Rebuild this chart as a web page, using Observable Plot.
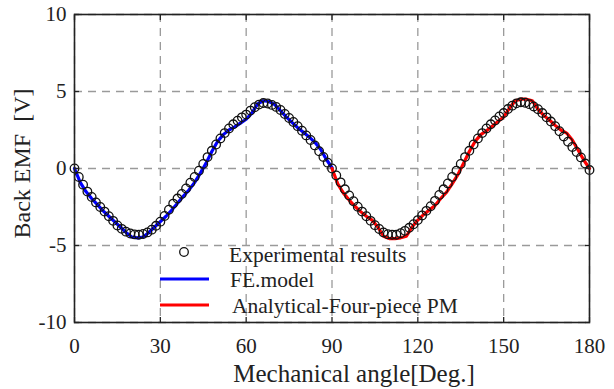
<!DOCTYPE html>
<html><head><meta charset="utf-8">
<script src="https://cdn.jsdelivr.net/npm/d3@7"></script>
<script src="https://cdn.jsdelivr.net/npm/@observablehq/plot@0.6"></script>
<style>
body{margin:0;background:#fff;}
#wrap{position:relative;width:614px;height:389px;font-family:"Liberation Serif","Times New Roman",serif;}
#leg{position:absolute;left:0;top:0;}
</style></head><body><div id="wrap"></div>
<script>
// Experimental results (circles)
const expAngle = [0,1.5,3,4.5,6,7.5,9,10.5,12,13.5,15,16.5,18,19.5,21,22.5,24,25.5,27,28.5,30,31.5,33,34.5,36,37.5,39,40.5,42,43.5,45,46.5,48,49.5,51,52.5,54,55.5,57,58.5,60,61.5,63,64.5,66,67.5,69,70.5,72,73.5,75,76.5,78,79.5,81,82.5,84,85.5,87,88.5,90,
  91.5,93,94.5,96,97.5,99,100.5,102,103.5,105,106.5,108,109.5,111,112.5,114,115.5,117,118.5,120,121.5,123,124.5,126,127.5,129,130.5,132,133.5,135,136.5,138,139.5,141,142.5,144,145.5,147,148.5,150,151.5,153,154.5,156,157.5,159,160.5,162,163.5,165,166.5,168,169.5,171,172.5,174,175.5,177,178.5,180];
const expEmf = [0,-0.55,-1.05,-1.5,-1.85,-2.2,-2.5,-2.8,-3.1,-3.4,-3.7,-3.92,-4.1,-4.22,-4.28,-4.3,-4.25,-4.15,-3.97,-3.72,-3.45,-3.08,-2.68,-2.28,-1.95,-1.65,-1.3,-0.92,-0.55,-0.14,0.3,0.74,1.15,1.56,1.95,2.3,2.6,2.87,3.1,3.32,3.5,3.76,3.98,4.15,4.25,4.22,4.13,4.0,3.8,3.54,3.28,3.02,2.75,2.45,2.15,1.85,1.5,1.12,0.75,0.38,0.0,
  -0.45,-0.9,-1.35,-1.75,-2.12,-2.48,-2.8,-3.1,-3.4,-3.68,-3.93,-4.15,-4.27,-4.3,-4.3,-4.2,-4.05,-3.85,-3.62,-3.35,-3.05,-2.75,-2.45,-2.1,-1.72,-1.35,-0.97,-0.55,-0.14,0.3,0.74,1.15,1.56,1.95,2.3,2.6,2.87,3.12,3.38,3.6,3.86,4.08,4.23,4.3,4.27,4.18,4.03,3.85,3.6,3.32,3.05,2.75,2.42,2.08,1.74,1.4,1.07,0.72,0.32,-0.1];
// FE model (blue)
const feAngle = [0,2,4,6,8,10,12,14,16,18,20,22,24,26,28,30,32,34,36,38,40,42,44,46,48,50,52,54,56,58,60,62,64,66,68,70,72,74,76,78,80,82,84,86,88,90];
const feEmf = [0,-0.9,-1.5,-1.95,-2.35,-2.75,-3.1,-3.45,-3.8,-4.15,-4.45,-4.5,-4.45,-4.15,-3.8,-3.45,-3.1,-2.7,-2.25,-1.8,-1.4,-0.9,-0.3,0.35,1.1,1.75,2.2,2.5,2.7,2.95,3.2,3.6,4.2,4.4,4.35,4.15,3.75,3.35,3.0,2.65,2.35,2.05,1.7,1.25,0.6,0.05];
// Analytical four-piece PM (red)
const anAngle = [90,92,94,96,98,100,102,104,106,108,110,112,114,116,118,120,122,124,126,128,130,132,134,136,138,140,142,144,146,148,150,152,154,156,158,160,162,164,166,168,170,172,174,176,178,180];
const anEmf = [0,-1.0,-1.6,-2.05,-2.45,-2.8,-3.1,-3.35,-3.8,-4.4,-4.55,-4.55,-4.5,-4.4,-3.8,-3.35,-3.0,-2.7,-2.4,-1.95,-1.55,-1.0,-0.4,0.35,1.1,1.75,2.2,2.45,2.75,3.05,3.35,3.9,4.4,4.5,4.5,4.4,3.85,3.45,3.15,2.8,2.5,2.3,1.85,1.2,0.55,0.0];

const xTicks = [0,30,60,90,120,150,180];
const yTicks = [-10,-5,0,5,10];
const xLabel = "Mechanical angle[Deg.]";
const yLabel = "Back EMF\u00a0\u00a0[V]";
const legendLabels = ["Experimental results","FE.model","Analytical-Four-piece PM"];

const exp = expAngle.map((a,i)=>({a, v:expEmf[i]}));
const fe = feAngle.map((a,i)=>({a, v:feEmf[i]}));
const an = anAngle.map((a,i)=>({a, v:anEmf[i]}));

const font = '"Liberation Serif","Times New Roman",serif';
const grid = {stroke:"#9a9a9a", strokeOpacity:1, strokeDasharray:"8,6", strokeWidth:1.3};
const inTick = {tickFormat:()=>"", label:null, stroke:"#222", strokeWidth:1.3, tickSize:-5};

const plot = Plot.plot({
  width:614, height:389,
  marginLeft:74, marginRight:25, marginTop:14, marginBottom:67,
  style:{fontFamily:font, fontSize:"21px", color:"#222", background:"#fff"},
  x:{domain:[0,180]},
  y:{domain:[-10,10]},
  marks:[
    Plot.gridX(xTicks, grid),
    Plot.gridY(yTicks, grid),
    Plot.line(fe, {x:"a", y:"v", stroke:"#0000ff", strokeWidth:3.2}),
    Plot.line(an, {x:"a", y:"v", stroke:"#ff0000", strokeWidth:3.2}),
    Plot.dot(exp, {x:"a", y:"v", r:4.3, stroke:"#111", strokeWidth:1.3, fill:"none"}),
    Plot.axisX(xTicks, {anchor:"bottom", tickSize:0, tickPadding:16, tickFormat:d=>String(d), label:null, fontSize:21, fill:"#222"}),
    Plot.axisY(yTicks, {anchor:"left", tickSize:0, tickPadding:8, tickFormat:d=>String(d), label:null, fontSize:21, fill:"#222"}),
    Plot.axisX(xTicks, {anchor:"bottom", ...inTick}),
    Plot.axisX(xTicks, {anchor:"top", ...inTick}),
    Plot.axisY(yTicks, {anchor:"left", ...inTick}),
    Plot.axisY(yTicks, {anchor:"right", ...inTick}),
    Plot.frame({stroke:"#222", strokeWidth:1.6}),
    Plot.text([xLabel], {frameAnchor:"bottom", lineAnchor:"bottom", textAnchor:"middle", dy:59, dx:22, fontSize:25, fill:"#222"}),
    Plot.text([yLabel], {frameAnchor:"left", textAnchor:"middle", lineAnchor:"middle", rotate:-90, dx:-52, dy:-5, fontSize:24, fill:"#222"})
  ]
});
const wrap = document.getElementById("wrap");
wrap.appendChild(plot);

// legend overlay
const leg = d3.select(wrap).append("svg").attr("id","leg").attr("width",614).attr("height",389)
  .style("font-family", font).style("font-size","21.5px");
const rows = [
  {type:"dot", y:254, tx:229},
  {type:"line", color:"#0000ff", y:279, tx:230},
  {type:"line", color:"#ff0000", y:305, tx:232}
];
rows.forEach((r,i)=>{
  if (r.type==="dot") leg.append("circle").attr("cx",184).attr("cy",r.y-2).attr("r",4.3).attr("fill","none").attr("stroke","#111").attr("stroke-width",1.3);
  else leg.append("line").attr("x1",160).attr("x2",209).attr("y1",r.y).attr("y2",r.y).attr("stroke",r.color).attr("stroke-width",3);
  leg.append("text").attr("x",r.tx).attr("y",r.y).attr("dy","0.35em").attr("fill","#222").text(legendLabels[i]);
});
</script></body></html>
